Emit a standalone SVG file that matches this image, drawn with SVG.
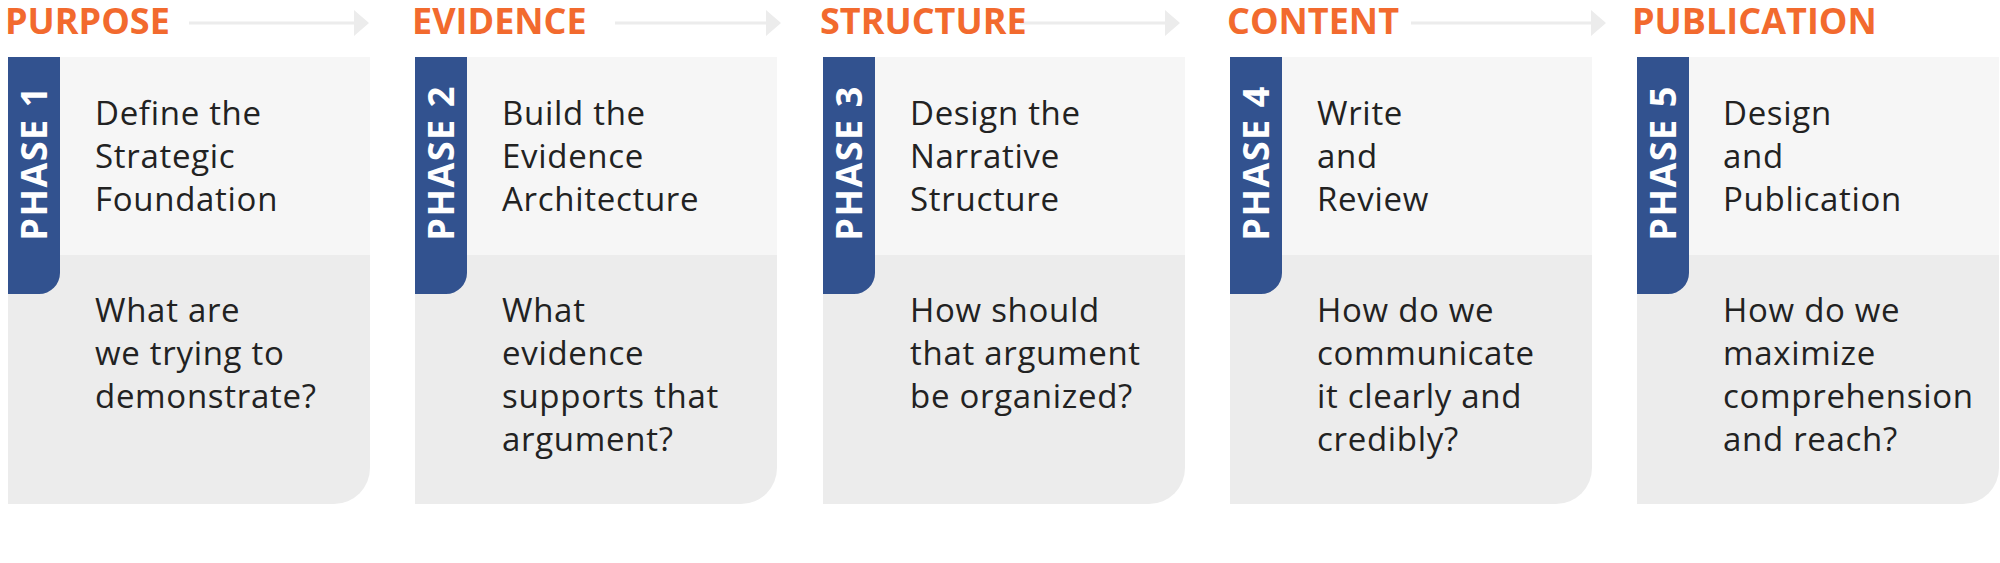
<svg xmlns="http://www.w3.org/2000/svg" width="2000" height="563" viewBox="0 0 2000 563">
<style>
.h{font-family:"Open Sans","Liberation Sans",sans-serif;font-weight:700;font-size:36px;fill:#F26A2E}
.t{font-family:"Open Sans","Liberation Sans",sans-serif;font-size:33px;fill:#222;letter-spacing:0.7px}
.p{font-family:"Open Sans","Liberation Sans",sans-serif;font-weight:700;font-size:36px;fill:#fff;letter-spacing:1.5px}
.top{fill:#f6f6f6}.bot{fill:#ececec}.tab{fill:#32528F}
.ar{stroke:#ececec;stroke-width:3;fill:none}.ah{fill:#ececec}
</style>
<defs>
<g id="card">
<rect class="top" x="0" y="57" width="362" height="198"/>
<path class="bot" d="M0 255H362V468A36 36 0 0 1 326 504H0Z"/>
<path class="tab" d="M0 57H52V273A21 21 0 0 1 31 294H0Z"/>
</g>
</defs>
<g id="connectors">
<path class="ar" d="M189 23H356M615 23H766M1020 23H1165M1411 23H1591"/>
<path class="ah" d="M354 10L369 23L354 36ZM766 10L781 23L766 36ZM1165 10L1180 23L1165 36ZM1591 10L1606 23L1591 36Z"/>
</g>
<g id="n1"><use href="#card" x="8"/>
<text class="h" x="5" y="34">PURPOSE</text>
<text class="p" transform="translate(47,163) rotate(-90)" text-anchor="middle">PHASE 1</text>
<text class="t" x="95"><tspan y="125">Define the</tspan><tspan x="95" y="168">Strategic</tspan><tspan x="95" y="211">Foundation</tspan></text>
<text class="t" x="95"><tspan y="322">What are</tspan><tspan x="95" y="365">we trying to</tspan><tspan x="95" y="408">demonstrate?</tspan></text>
</g>
<g id="n2"><use href="#card" x="415"/>
<text class="h" x="412" y="34">EVIDENCE</text>
<text class="p" transform="translate(454,163) rotate(-90)" text-anchor="middle">PHASE 2</text>
<text class="t" x="502"><tspan y="125">Build the</tspan><tspan x="502" y="168">Evidence</tspan><tspan x="502" y="211">Architecture</tspan></text>
<text class="t" x="502"><tspan y="322">What</tspan><tspan x="502" y="365">evidence</tspan><tspan x="502" y="408">supports that</tspan><tspan x="502" y="451">argument?</tspan></text>
</g>
<g id="n3"><use href="#card" x="823"/>
<text class="h" x="820" y="34">STRUCTURE</text>
<text class="p" transform="translate(862,163) rotate(-90)" text-anchor="middle">PHASE 3</text>
<text class="t" x="910"><tspan y="125">Design the</tspan><tspan x="910" y="168">Narrative</tspan><tspan x="910" y="211">Structure</tspan></text>
<text class="t" x="910"><tspan y="322">How should</tspan><tspan x="910" y="365">that argument</tspan><tspan x="910" y="408">be organized?</tspan></text>
</g>
<g id="n4"><use href="#card" x="1230"/>
<text class="h" x="1227" y="34">CONTENT</text>
<text class="p" transform="translate(1269,163) rotate(-90)" text-anchor="middle">PHASE 4</text>
<text class="t" x="1317"><tspan y="125">Write</tspan><tspan x="1317" y="168">and</tspan><tspan x="1317" y="211">Review</tspan></text>
<text class="t" x="1317"><tspan y="322">How do we</tspan><tspan x="1317" y="365">communicate</tspan><tspan x="1317" y="408">it clearly and</tspan><tspan x="1317" y="451">credibly?</tspan></text>
</g>
<g id="n5"><use href="#card" x="1637"/>
<text class="h" x="1632" y="34">PUBLICATION</text>
<text class="p" transform="translate(1676,163) rotate(-90)" text-anchor="middle">PHASE 5</text>
<text class="t" x="1723"><tspan y="125">Design</tspan><tspan x="1723" y="168">and</tspan><tspan x="1723" y="211">Publication</tspan></text>
<text class="t" x="1723"><tspan y="322">How do we</tspan><tspan x="1723" y="365">maximize</tspan><tspan x="1723" y="408">comprehension</tspan><tspan x="1723" y="451">and reach?</tspan></text>
</g>
</svg>
